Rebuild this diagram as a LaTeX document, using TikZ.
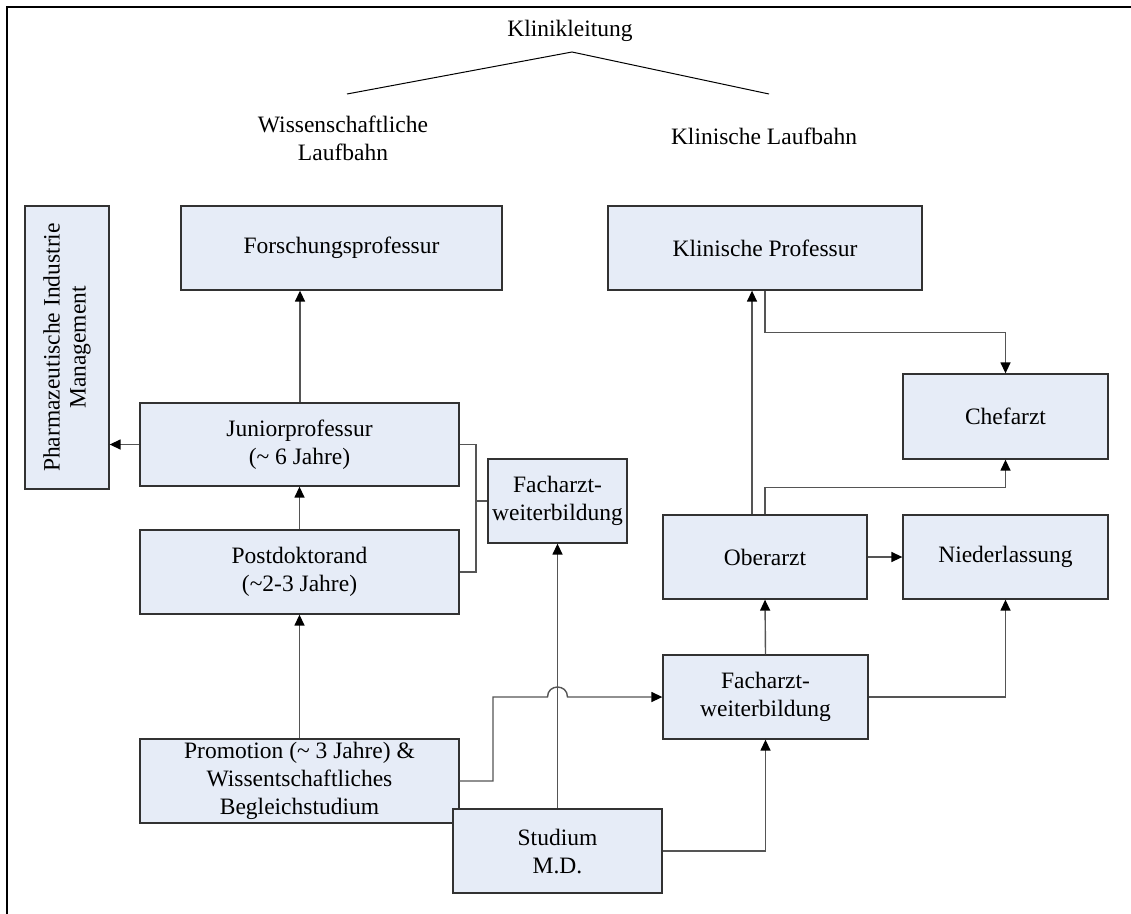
\documentclass[tikz,border=0pt]{standalone}
\usepackage{fontspec}
\setmainfont{Liberation Serif}
\usetikzlibrary{arrows.meta,calc}
\definecolor{boxfill}{RGB}{230,236,247}
\definecolor{boxline}{RGB}{50,50,50}
\definecolor{conn}{RGB}{85,85,85}
\begin{document}
\begin{tikzpicture}[x=1pt,y=-1pt,
  every node/.style={font=\fontsize{23.5}{28}\selectfont, inner sep=0pt},
  box/.style 2 args={draw=boxline, fill=boxfill, line width=1.3pt,
    minimum width=#1pt, minimum height=#2pt, align=center},
  conn/.style={draw=conn, line width=1.4pt},
  arr/.style={conn, -{Triangle[length=11pt,width=10pt,color=black]}}]
\useasboundingbox (0,0) rectangle (1131,913);
% outer frame (top and left edges only)
\draw[line width=2.6pt, line cap=rect] (7,913) -- (7,7) -- (1131,7);

% heading and the two career paths
\node (lead) at (570,31) {Klinikleitung};
\coordinate (apex) at (572,52);
\coordinate (lend) at (347,94);
\coordinate (rend) at (769,94);
\draw[line width=1pt] (lend) -- (apex) -- (rend);
\node[align=center] (wiss) at (343,138) {Wissenschaftliche\\Laufbahn};
\node (klin) at (764,136) {Klinische Laufbahn};

% boxes
\node[box={321}{84}] (forsch) at (341.5,248) {Forschungsprofessur};
\node[box={314}{84}] (klinprof) at (765,248) {Klinische Professur};
\node[box={84}{283}] (pharma) at (67,347.5)
  {\rotatebox{90}{\begin{tabular}{@{}c@{}}Pharmazeutische Industrie\\[-2pt]Management\end{tabular}}};
\node[box={319}{83}] (junior) at (299.5,444.5) {Juniorprofessur\\(\textasciitilde{} 6 Jahre)};
\node[box={319}{84}] (postdoc) at (299.5,572) {Postdoktorand\\(\textasciitilde2-3 Jahre)};
\node[box={319}{84}] (promo) at (299.5,781) {Promotion (\textasciitilde{} 3 Jahre) \&\\Wissentschaftliches\\Begleichstudium};
\node[box={139}{84}] (fachL) at (557.5,501) {Facharzt-\\weiterbildung};
\node[box={209}{84}] (studium) at (557.5,851) {Studium\\M.D.};
\node[box={205}{84}] (fachR) at (765.5,697) {Facharzt-\\weiterbildung};
\node[box={204}{84}] (ober) at (765,557) {Oberarzt};
\node[box={205}{84}] (nieder) at (1005.5,557) {Niederlassung};
\node[box={205}{85}] (chef) at (1005.5,416.5) {Chefarzt};

% scientific path
\draw[arr] (junior.north -| 300,0) -- (forsch.south -| 300,0);
\draw[arr] (postdoc.north) -- (junior.south);
\draw[arr] (promo.north) -- (postdoc.south);
\draw[arr] (junior.west) -- (junior.west -| pharma.east);
\coordinate (brk) at (476,501);
\draw[conn] (junior.east) -| (brk) |- (postdoc.east);
\draw[conn] (brk) -- (fachL.west);

% from the studies
\draw[arr] (studium.north) -- (fachL.south);
\coordinate (pturn) at (493,697);
\draw[arr] (promo.east |- 0,781) -| (pturn)
  -- (547.5,697) .. controls (547.5,683.7) and (567.5,683.7) .. (567.5,697)
  -- (fachR.west);
\draw[arr] (studium.east) -| (fachR.south);

% clinical path
\draw[arr] (fachR.north) -- (ober.south);
\draw[arr] (fachR.east) -| (nieder.south);
\draw[arr] (ober.east) -- (nieder.west);
\draw[arr] ($(ober.north)+(-13,0)$) -- ($(ober.north |- klinprof.south)+(-13,0)$);
\draw[arr] (ober.north) -- ++(0,-27) -| (chef.south);
\draw[arr] (klinprof.south) -- ++(0,42) -| (chef.north);
\end{tikzpicture}
\end{document}
